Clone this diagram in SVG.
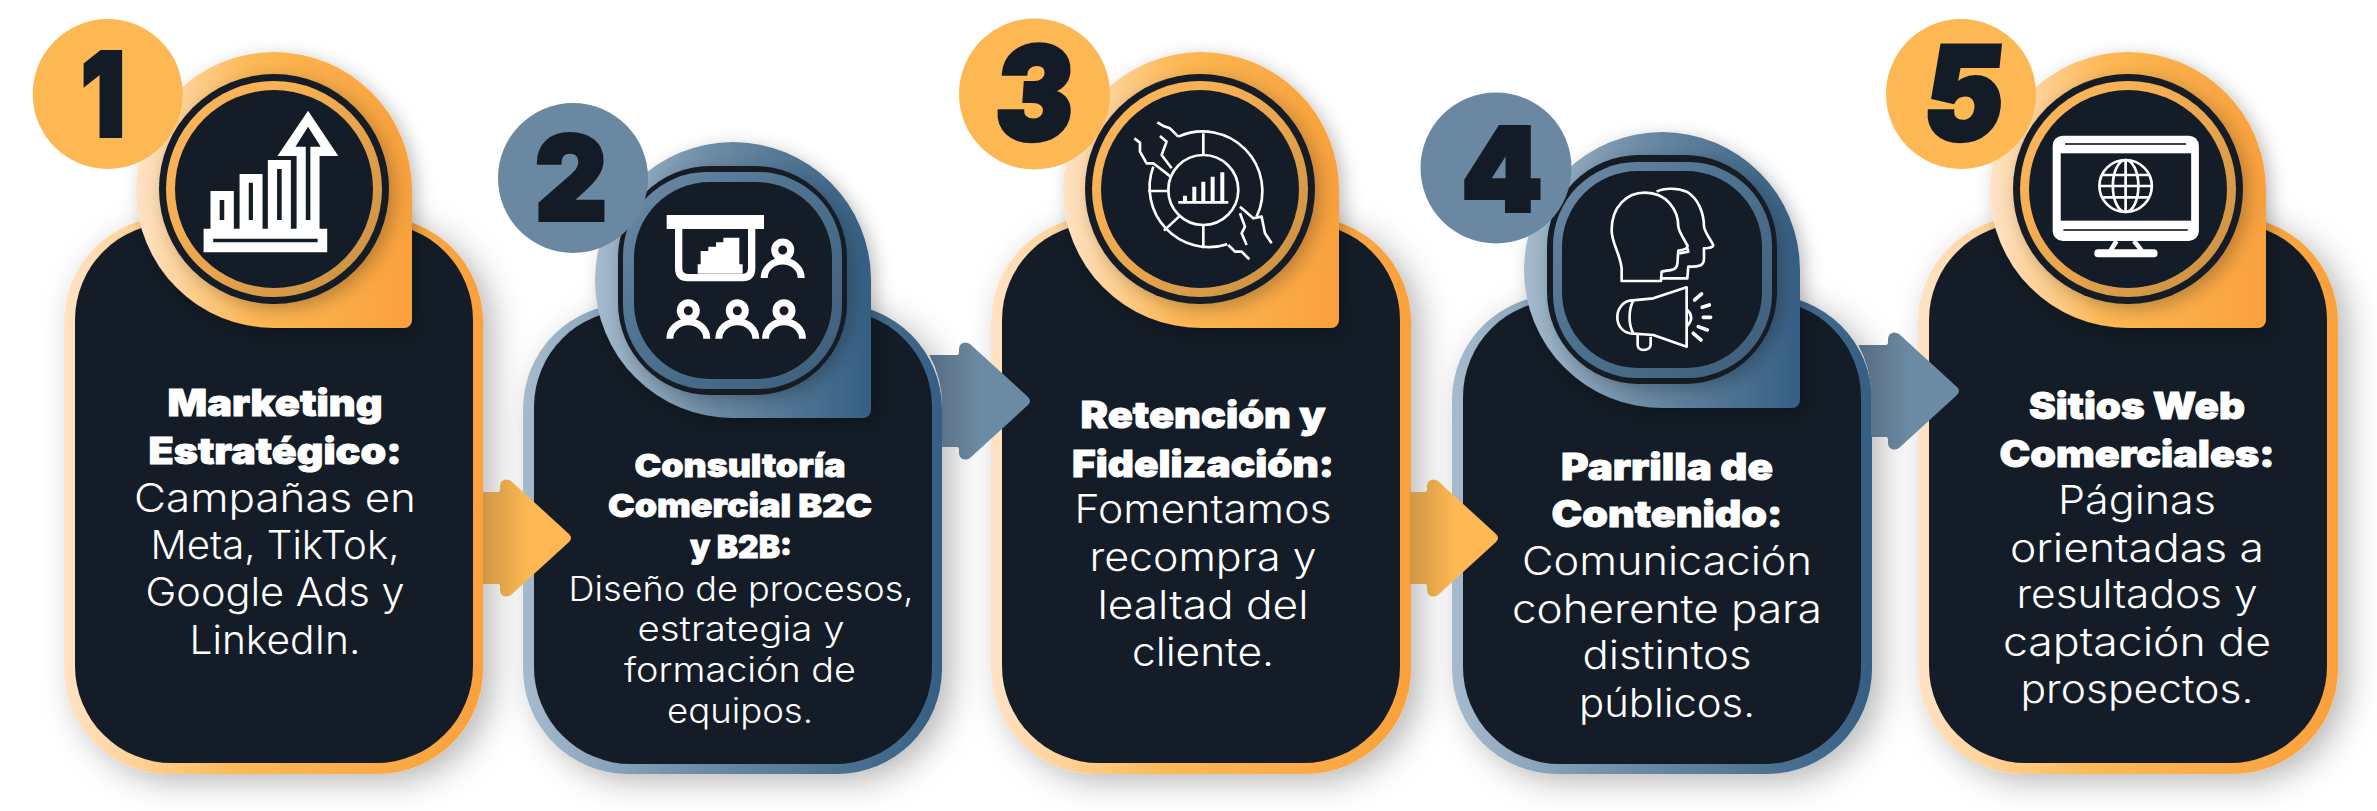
<svg xmlns="http://www.w3.org/2000/svg" xmlns:xlink="http://www.w3.org/1999/xlink" width="2377" height="811" viewBox="0 0 2377 811">
<style>
text{font-family:"Inter","Liberation Sans",sans-serif;fill:#fff;text-anchor:middle}
.h{font-size:37px;font-weight:900;stroke:#fff;stroke-width:.9px}
.h2{font-size:32px;font-weight:900;stroke:#fff;stroke-width:.8px}
.b{font-size:39px;font-weight:300}
.b2{font-size:34px;font-weight:300}
.n{font-size:116px;font-weight:900;fill:#131C26;stroke:#131C26;stroke-width:4px}
.nt{font-size:130px}
.dark{fill:#131C27}
.ob{fill:#FDB853}.bb{fill:#6A88A1}
.w{fill:#fff}
.wl{fill:none;stroke:#fff;stroke-linejoin:round}
.wr{fill:none;stroke:#fff;stroke-linecap:round;stroke-linejoin:round}
.co{fill:url(#go)}.cb{fill:url(#gb)}
.ro{fill:url(#ro)}.rb{fill:url(#rb)}
.sh{filter:url(#s1)}.sh2{filter:url(#s2)}
.ao{fill:url(#ao)}.ab{fill:url(#ab)}
</style>
<defs>
<linearGradient id="go"><stop offset="0" stop-color="#FFE3C6"/><stop offset=".42" stop-color="#FDB853"/><stop offset="1" stop-color="#F9A13D"/></linearGradient>
<linearGradient id="gb"><stop offset="0" stop-color="#A6BBCD"/><stop offset=".42" stop-color="#6D8CA6"/><stop offset="1" stop-color="#355F83"/></linearGradient>
<linearGradient id="ro" x1="0" y1="0" x2="1" y2="1"><stop offset="0" stop-color="#FCB85E"/><stop offset=".35" stop-color="#F5AE52"/><stop offset="1" stop-color="#C48D41"/></linearGradient>
<linearGradient id="rb" x1="0" y1="0" x2="1" y2="1"><stop offset="0" stop-color="#6E8CA5"/><stop offset=".4" stop-color="#4F7391"/><stop offset="1" stop-color="#3D5E79"/></linearGradient>
<linearGradient id="ao"><stop offset="0" stop-color="#CE9645"/><stop offset=".5" stop-color="#FDB853"/></linearGradient>
<linearGradient id="ab"><stop offset="0" stop-color="#566C80"/><stop offset=".5" stop-color="#6B8AA3"/></linearGradient>
<filter id="s1" x="-20%" y="-20%" width="145%" height="145%"><feDropShadow dx="10" dy="8" stdDeviation="16" flood-color="#000" flood-opacity=".28"/></filter>
<filter id="s2" x="-20%" y="-20%" width="140%" height="140%"><feDropShadow dx="5" dy="5" stdDeviation="9" flood-color="#000" flood-opacity=".26"/></filter>
<path id="drop" d="M0,138A138,138 0 0 1 276,138V268A8,8 0 0 1 268,276H138A138,138 0 0 1 0,138Z"/>
<path id="arS" d="M-88,-46H-73Q-71,-46 -71,-49V-52Q-71,-55 -69,-57Q-65,-60 -60,-57L-2,-4Q2,0 -2,4L-60,57Q-65,60 -69,57Q-71,55 -71,52V49Q-71,46 -73,46H-88Z"/>
<path id="arC" d="M-100.700,-46H-73Q-71,-46 -71,-49V-52Q-71,-55 -69,-57Q-65,-60 -60,-57L-2,-4Q2,0 -2,4L-60,57Q-65,60 -69,57Q-71,55 -71,52V49Q-71,46 -73,46H-88V4A105,105 0 0 0 -100.700,-46Z"/>
<g id="person"><circle cy="0" r="8" fill="#131C27" stroke="#fff" stroke-width="7"/><path d="M-18.500,28A18.500,17 0 0 1 18.500,28" fill="none" stroke="#fff" stroke-width="7"/></g>
</defs>
<rect width="2377" height="811" fill="#fff"/>

<g id="node-5">
<rect class="co sh" x="1918" y="217" width="420" height="557" rx="105"/>
<rect class="dark" x="1929" y="223" width="398" height="540" rx="97"/>
<use href="#drop" class="co sh2" x="1990" y="52"/>
<circle class="dark sh2" cx="2128" cy="189" r="115"/>
<circle class="ro" cx="2128" cy="189" r="108"/>
<circle class="dark" cx="2128" cy="189" r="99"/>
<g transform="translate(1850,0) scale(.3361,.3333)">
<rect class="w" x="603" y="407" width="435" height="316" rx="30"/>
<rect class="dark" x="627" y="460" width="388" height="202"/>
<path d="M640,432H1000M635,690H1005" stroke="#3c4650" stroke-width="6" fill="none"/>
<path class="wl" d="M793,723L775,752M845,723L868,752" stroke-width="14"/>
<rect class="w" x="727" y="748" width="188" height="24" rx="11"/>
<g class="wl" stroke-width="8"><circle cx="820" cy="558" r="78"/><ellipse cx="820" cy="558" rx="38" ry="78"/><path d="M820,480V636M748,525H892M742,558H898M748,592H892"/></g>
</g>
<circle class="ob" cx="1961" cy="94" r="75"/>
<text class="n nt" transform="translate(1960,140) skewX(-6)" textLength="79" lengthAdjust="spacingAndGlyphs">5</text>
<text class="h" x="2137" y="419" textLength="216" lengthAdjust="spacingAndGlyphs">Sitios Web</text>
<text class="h" x="2137" y="467" textLength="275" lengthAdjust="spacingAndGlyphs">Comerciales:</text>
<text class="b" x="2137" y="514" textLength="158" lengthAdjust="spacingAndGlyphs">Páginas</text>
<text class="b" x="2137" y="562" textLength="254" lengthAdjust="spacingAndGlyphs">orientadas a</text>
<text class="b" x="2137" y="608" textLength="241" lengthAdjust="spacingAndGlyphs">resultados y</text>
<text class="b" x="2137" y="656" textLength="268" lengthAdjust="spacingAndGlyphs">captación de</text>
<text class="b" x="2137" y="703" textLength="233" lengthAdjust="spacingAndGlyphs">prospectos.</text>
</g>

<g id="node-4">
<rect class="cb sh" x="1452" y="295" width="420" height="479" rx="105"/>
<rect class="dark" x="1463" y="300" width="398" height="464" rx="97"/>
<use href="#drop" class="cb sh2" x="1524" y="132"/>
<rect class="dark sh2" x="1547" y="155" width="230" height="229" rx="92"/>
<rect class="rb" x="1553" y="162" width="219" height="216" rx="84"/>
<rect class="dark" x="1562" y="171" width="200" height="197" rx="76"/>
<g transform="translate(1400,80) scale(.3333)" class="wl" stroke-width="8">
<path d="M665,603L665,565C660,520 635,490 635,450C635,380 680,338 735,338C800,338 835,390 835,440C838,460 860,490 863,498C863,505 850,510 835,512L833,540C833,565 825,570 800,572L785,575L783,603Z"/>
<path d="M770,335C790,325 830,322 860,335C895,355 912,400 912,440C915,460 940,490 940,497C938,503 920,505 912,505L912,535C912,555 905,560 865,560L862,595L785,595M862,505L865,515L838,520"/>
<path d="M860,622L860,800L760,765L690,760C665,755 652,735 652,712C652,685 670,665 690,662L760,655Z"/>
<path d="M700,662C685,690 685,735 700,760M713,765L713,795C713,815 750,815 752,795L752,770M862,690Q885,712 862,738"/>
<path class="wr" stroke-width="11" d="M884,660L905,642M907,682L928,675M910,712H932M895,740L922,750M880,760L903,780"/>
</g>
<circle class="bb" cx="1496" cy="168" r="75.500"/>
<text class="n" x="1502" y="211" textLength="81" lengthAdjust="spacingAndGlyphs">4</text>
<text class="h" x="1667" y="480" textLength="212" lengthAdjust="spacingAndGlyphs">Parrilla de</text>
<text class="h" x="1667" y="527" textLength="231" lengthAdjust="spacingAndGlyphs">Contenido:</text>
<text class="b" x="1667" y="575" textLength="290" lengthAdjust="spacingAndGlyphs">Comunicación</text>
<text class="b" x="1667" y="623" textLength="310" lengthAdjust="spacingAndGlyphs">coherente para</text>
<text class="b" x="1667" y="669" textLength="169" lengthAdjust="spacingAndGlyphs">distintos</text>
<text class="b" x="1667" y="717" textLength="176" lengthAdjust="spacingAndGlyphs">públicos.</text>
</g>

<g id="node-3">
<rect class="co sh" x="991" y="217" width="420" height="557" rx="105"/>
<rect class="dark" x="1002" y="223" width="398" height="540" rx="97"/>
<use href="#drop" class="co sh2" x="1063" y="52"/>
<circle class="dark sh2" cx="1200" cy="189" r="115"/>
<circle class="ro" cx="1200" cy="189" r="108"/>
<circle class="dark" cx="1200" cy="189" r="99"/>
<g transform="translate(940,0) scale(.3333)" class="wl" stroke-width="8">
<circle cx="790" cy="570" r="105"/>
<path d="M715,410A179,179 0 0 1 950,650M862,733A179,179 0 0 1 640,500"/>
<path d="M790,400V468M625,573H688M672,692L717,650M790,675V745"/>
<path d="M583,415L600,428L600,455L620,490L640,490L692,530M652,367L670,378L690,385L715,410M660,408L680,425L665,465L695,505M900,620L940,655L965,650L975,700L995,730M900,640L915,680L905,700L920,735M865,735L885,755L905,755L928,778"/>
<path d="M715,607H865"/>
<path stroke-width="12" d="M735,587V603M763,560V603M790,545V603M818,530V603M847,517V603"/>
</g>
<circle class="ob" cx="1034.500" cy="94" r="75.500"/>
<text class="n nt" transform="translate(1032,140) skewX(-4)" textLength="78" lengthAdjust="spacingAndGlyphs">3</text>
<text class="h" x="1203" y="428" textLength="245" lengthAdjust="spacingAndGlyphs">Retención y</text>
<text class="h" x="1203" y="477" textLength="262" lengthAdjust="spacingAndGlyphs">Fidelización:</text>
<text class="b" x="1203" y="523" textLength="257" lengthAdjust="spacingAndGlyphs">Fomentamos</text>
<text class="b" x="1203" y="571" textLength="227" lengthAdjust="spacingAndGlyphs">recompra y</text>
<text class="b" x="1203" y="619" textLength="211" lengthAdjust="spacingAndGlyphs">lealtad del</text>
<text class="b" x="1203" y="666" textLength="142" lengthAdjust="spacingAndGlyphs">cliente.</text>
</g>

<g id="node-2">
<rect class="cb sh" x="523" y="304" width="419" height="470" rx="105"/>
<rect class="dark" x="534" y="310" width="398" height="454" rx="97"/>
<use href="#drop" class="cb sh2" x="595" y="142"/>
<rect class="dark sh2" x="618" y="166" width="229" height="229" rx="92"/>
<rect class="rb" x="623" y="172" width="219" height="217" rx="84"/>
<rect class="dark" x="634" y="182" width="198" height="197" rx="76"/>
<g transform="translate(660,205) scale(.3333)">
<rect class="w" x="20" y="30" width="292" height="42"/>
<path class="wl" stroke-width="22" d="M56,72V190Q56,218 84,218H247Q275,218 275,190V72"/>
<path class="w" d="M113,206V178H122V138H145V125H168V112H190V98H238V178H248V206Z"/>
</g>
<use href="#person" x="782.700" y="250"/>
<use href="#person" x="688.300" y="310.700"/>
<use href="#person" x="737.300" y="310.700"/>
<use href="#person" x="784" y="310.700"/>
<circle class="bb" cx="573" cy="178" r="75"/>
<text class="n" x="571" y="220" textLength="72" lengthAdjust="spacingAndGlyphs">2</text>
<text class="h2" x="740" y="477" textLength="211" lengthAdjust="spacingAndGlyphs">Consultoría</text>
<text class="h2" x="740" y="517" textLength="264" lengthAdjust="spacingAndGlyphs">Comercial B2C</text>
<text class="h2" x="741" y="558" textLength="102" lengthAdjust="spacingAndGlyphs">y B2B:</text>
<text class="b2" x="741" y="601" textLength="345" lengthAdjust="spacingAndGlyphs">Diseño de procesos,</text>
<text class="b2" x="741" y="641" textLength="207" lengthAdjust="spacingAndGlyphs">estrategia y</text>
<text class="b2" x="740" y="682" textLength="232" lengthAdjust="spacingAndGlyphs">formación de</text>
<text class="b2" x="740" y="723" textLength="146" lengthAdjust="spacingAndGlyphs">equipos.</text>
</g>

<g id="node-1">
<rect class="co sh" x="64" y="217" width="419" height="557" rx="105"/>
<rect class="dark" x="75" y="223" width="398" height="540" rx="97"/>
<use href="#drop" class="co sh2" x="136" y="52"/>
<circle class="dark sh2" cx="274" cy="189" r="115"/>
<circle class="ro" cx="274" cy="189" r="108"/>
<circle class="dark" cx="274" cy="189" r="99"/>
<g transform="scale(.3827,.3333)">
<path class="w" d="M532,686H855V757H532ZM550,573H611V686H550ZM626,522H686V686H626ZM700,480H760V686H700ZM775,468H725L805,332L884,468H835V686H775Z"/>
<path class="dark" d="M557,716H830V727H557ZM574,600H586V660H574ZM650,548H661V660H650ZM724,507H736V660H724ZM799,440H772L805,380L838,440H811V660H799Z"/>
</g>
<circle class="ob" cx="107.700" cy="94" r="75"/>
<text class="n" x="103" y="136" textLength="44" lengthAdjust="spacingAndGlyphs">1</text>
<text class="h" x="275" y="416" textLength="215" lengthAdjust="spacingAndGlyphs">Marketing</text>
<text class="h" x="275" y="464" textLength="253" lengthAdjust="spacingAndGlyphs">Estratégico:</text>
<text class="b" x="275" y="512" textLength="282" lengthAdjust="spacingAndGlyphs">Campañas en</text>
<text class="b" x="275" y="559" textLength="249" lengthAdjust="spacingAndGlyphs">Meta, TikTok,</text>
<text class="b" x="275" y="606" textLength="259" lengthAdjust="spacingAndGlyphs">Google Ads y</text>
<text class="b" x="275" y="654" textLength="171" lengthAdjust="spacingAndGlyphs">LinkedIn.</text>
</g>

<g id="connectors">
<use href="#arS" class="ao" x="571" y="538"/>
<use href="#arC" class="ab" x="1030" y="401"/>
<use href="#arS" class="ao" x="1498" y="538"/>
<use href="#arC" class="ab" x="1959" y="391"/>
</g>
</svg>
